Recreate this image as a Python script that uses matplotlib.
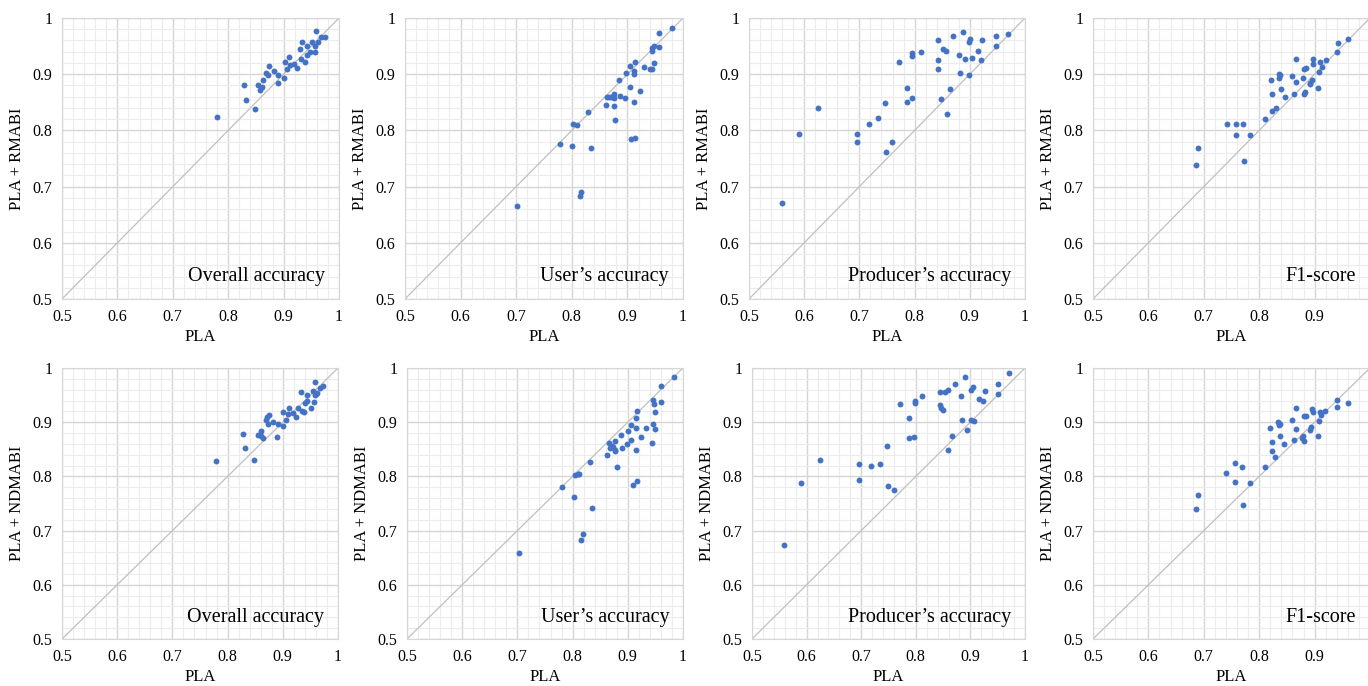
import numpy as np
import matplotlib.pyplot as plt
from matplotlib.ticker import MultipleLocator

plt.rcParams['font.family'] = ['Liberation Serif', 'DejaVu Serif']

# ---- data ----
# overall accuracy
oa_pla_1 = [0.779, 0.828, 0.833, 0.848, 0.854, 0.857, 0.861, 0.862, 0.869, 0.872, 0.874, 0.882,
            0.889, 0.890, 0.900, 0.902, 0.906, 0.910, 0.911, 0.918, 0.924, 0.929, 0.932, 0.933,
            0.938, 0.942, 0.943, 0.947, 0.952, 0.956, 0.957, 0.959, 0.962, 0.967, 0.974]
oa_rmabi = [0.823, 0.881, 0.854, 0.838, 0.881, 0.871, 0.877, 0.889, 0.902, 0.898, 0.914, 0.906,
            0.884, 0.898, 0.894, 0.922, 0.909, 0.930, 0.917, 0.919, 0.911, 0.944, 0.927, 0.957,
            0.921, 0.935, 0.951, 0.940, 0.958, 0.940, 0.951, 0.976, 0.958, 0.966, 0.967]
oa_pla_2 = [0.779, 0.828, 0.832, 0.847, 0.855, 0.861, 0.860, 0.864, 0.869, 0.872, 0.875, 0.873,
            0.882, 0.889, 0.891, 0.901, 0.901, 0.905, 0.910, 0.912, 0.919, 0.924, 0.927, 0.933,
            0.934, 0.938, 0.941, 0.944, 0.943, 0.951, 0.954, 0.956, 0.959, 0.959, 0.962, 0.960,
            0.967, 0.973]
oa_ndmabi = [0.828, 0.879, 0.853, 0.831, 0.877, 0.884, 0.874, 0.870, 0.904, 0.909, 0.913, 0.897,
             0.901, 0.873, 0.897, 0.893, 0.918, 0.904, 0.915, 0.927, 0.917, 0.909, 0.927, 0.955,
             0.921, 0.919, 0.935, 0.940, 0.950, 0.927, 0.957, 0.938, 0.975, 0.950, 0.954, 0.952,
             0.964, 0.966]

# user's accuracy
ua_pla_1 = [0.702, 0.778, 0.800, 0.803, 0.810, 0.814, 0.817, 0.834, 0.830, 0.861, 0.863, 0.867,
            0.870, 0.875, 0.875, 0.875, 0.878, 0.884, 0.887, 0.896, 0.898, 0.904, 0.904, 0.907,
            0.912, 0.912, 0.911, 0.914, 0.914, 0.922, 0.930, 0.941, 0.944, 0.944, 0.944, 0.948,
            0.948, 0.956, 0.957, 0.981]
ua_rmabi = [0.665, 0.776, 0.772, 0.811, 0.809, 0.683, 0.690, 0.769, 0.832, 0.845, 0.859, 0.860,
            0.859, 0.857, 0.864, 0.843, 0.818, 0.889, 0.861, 0.857, 0.902, 0.878, 0.914, 0.785,
            0.901, 0.905, 0.851, 0.787, 0.922, 0.870, 0.912, 0.910, 0.909, 0.941, 0.946, 0.920,
            0.951, 0.948, 0.973, 0.982]
ua_pla_2 = [0.703, 0.780, 0.802, 0.804, 0.810, 0.812, 0.815, 0.819, 0.835, 0.832, 0.863, 0.866,
            0.867, 0.871, 0.873, 0.877, 0.877, 0.877, 0.880, 0.887, 0.890, 0.898, 0.901, 0.905,
            0.905, 0.910, 0.914, 0.914, 0.915, 0.916, 0.917, 0.924, 0.933, 0.943, 0.946, 0.946,
            0.948, 0.950, 0.950, 0.960, 0.960, 0.984]
ua_ndmabi = [0.658, 0.780, 0.762, 0.802, 0.804, 0.804, 0.683, 0.694, 0.742, 0.826, 0.840, 0.862,
             0.852, 0.857, 0.854, 0.865, 0.846, 0.849, 0.818, 0.877, 0.852, 0.860, 0.883, 0.895,
             0.868, 0.784, 0.848, 0.889, 0.907, 0.920, 0.792, 0.872, 0.889, 0.862, 0.897, 0.941,
             0.934, 0.918, 0.887, 0.937, 0.967, 0.984]

# producer's accuracy
pa_pla_1 = [0.560, 0.591, 0.625, 0.696, 0.696, 0.718, 0.733, 0.747, 0.748, 0.759, 0.771, 0.787,
            0.787, 0.795, 0.796, 0.796, 0.811, 0.843, 0.843, 0.843, 0.847, 0.851, 0.857, 0.858,
            0.864, 0.869, 0.881, 0.882, 0.888, 0.892, 0.899, 0.899, 0.901, 0.904, 0.914, 0.921,
            0.923, 0.947, 0.947, 0.969]
pa_rmabi = [0.670, 0.793, 0.840, 0.793, 0.780, 0.811, 0.822, 0.849, 0.762, 0.780, 0.922, 0.876,
            0.850, 0.858, 0.938, 0.933, 0.940, 0.961, 0.926, 0.909, 0.855, 0.944, 0.941, 0.830,
            0.873, 0.968, 0.935, 0.903, 0.975, 0.927, 0.898, 0.957, 0.963, 0.929, 0.941, 0.925,
            0.960, 0.968, 0.950, 0.971]
pa_pla_2 = [0.559, 0.590, 0.624, 0.696, 0.696, 0.718, 0.734, 0.747, 0.749, 0.760, 0.771, 0.787,
            0.788, 0.796, 0.798, 0.799, 0.812, 0.845, 0.845, 0.847, 0.849, 0.853, 0.859, 0.859,
            0.866, 0.872, 0.883, 0.884, 0.890, 0.894, 0.901, 0.906, 0.902, 0.904, 0.916, 0.923,
            0.926, 0.951, 0.951, 0.971]
pa_ndmabi = [0.674, 0.788, 0.830, 0.822, 0.794, 0.820, 0.822, 0.857, 0.783, 0.775, 0.933, 0.907,
             0.871, 0.873, 0.935, 0.939, 0.948, 0.956, 0.931, 0.927, 0.923, 0.955, 0.959, 0.849,
             0.875, 0.970, 0.948, 0.904, 0.984, 0.886, 0.904, 0.902, 0.959, 0.965, 0.943, 0.939,
             0.957, 0.971, 0.952, 0.991]

# F1-score
f1_pla_1 = [0.686, 0.690, 0.741, 0.758, 0.771, 0.758, 0.784, 0.772, 0.811, 0.824, 0.830, 0.821,
            0.824, 0.835, 0.835, 0.838, 0.839, 0.846, 0.860, 0.867, 0.866, 0.863, 0.879, 0.880,
            0.883, 0.881, 0.884, 0.891, 0.892, 0.896, 0.897, 0.898, 0.907, 0.908, 0.910, 0.913,
            0.920, 0.941, 0.943, 0.960]
f1_rmabi = [0.739, 0.769, 0.812, 0.812, 0.812, 0.792, 0.792, 0.746, 0.820, 0.835, 0.839, 0.889,
            0.865, 0.901, 0.894, 0.898, 0.874, 0.860, 0.897, 0.927, 0.886, 0.864, 0.893, 0.865,
            0.869, 0.910, 0.911, 0.885, 0.882, 0.889, 0.927, 0.918, 0.876, 0.904, 0.921, 0.913,
            0.926, 0.940, 0.956, 0.962]
f1_pla_2 = [0.686, 0.690, 0.740, 0.757, 0.769, 0.757, 0.783, 0.771, 0.810, 0.829, 0.823, 0.823,
            0.820, 0.834, 0.835, 0.838, 0.838, 0.845, 0.860, 0.866, 0.866, 0.862, 0.879, 0.880,
            0.878, 0.881, 0.884, 0.891, 0.893, 0.896, 0.897, 0.907, 0.908, 0.910, 0.911, 0.918,
            0.940, 0.941, 0.960]
f1_ndmabi = [0.739, 0.765, 0.807, 0.824, 0.817, 0.790, 0.788, 0.747, 0.817, 0.836, 0.847, 0.863,
             0.890, 0.900, 0.894, 0.897, 0.875, 0.860, 0.904, 0.927, 0.888, 0.867, 0.874, 0.866,
             0.870, 0.911, 0.911, 0.885, 0.892, 0.925, 0.918, 0.875, 0.902, 0.919, 0.914, 0.920,
             0.928, 0.941, 0.936]

titles = ["Overall accuracy", "User\u2019s accuracy", "Producer\u2019s accuracy", "F1-score"]
row_labels = ["PLA + RMABI", "PLA + NDMABI"]
x_label = "PLA"
tick_vals = [0.5, 0.6, 0.7, 0.8, 0.9, 1.0]
tick_text = ["0.5", "0.6", "0.7", "0.8", "0.9", "1"]

panels = [
    [(oa_pla_1, oa_rmabi), (ua_pla_1, ua_rmabi), (pa_pla_1, pa_rmabi), (f1_pla_1, f1_rmabi)],
    [(oa_pla_2, oa_ndmabi), (ua_pla_2, ua_ndmabi), (pa_pla_2, pa_ndmabi), (f1_pla_2, f1_ndmabi)],
]

# layout in pixels (last column runs off the right edge, as in the original)
W, H = 1368, 686
lefts = [[62, 405, 749, 1093], [62, 407, 752, 1093]]
tops = [18, 368]
widths = [[277, 278, 276, 277], [276, 276, 273, 277]]
heights = [281, 271]

fig = plt.figure(figsize=(W / 100, H / 100), dpi=100)

for r in range(2):
    for c in range(4):
        l, t, w, h = lefts[r][c], tops[r], widths[r][c], heights[r]
        ax = fig.add_axes([l / W, 1 - (t + h) / H, w / W, h / H])
        x, y = panels[r][c]
        ax.set_xlim(0.5, 1)
        ax.set_ylim(0.5, 1)
        ax.xaxis.set_minor_locator(MultipleLocator(0.02))
        ax.yaxis.set_minor_locator(MultipleLocator(0.02))
        if c == 3:
            # the "1" label falls outside the picture here
            ax.set_xticks(tick_vals[:-1], tick_text[:-1])
        else:
            ax.set_xticks(tick_vals, tick_text)
        ax.set_yticks(tick_vals, tick_text)
        ax.grid(which='minor', color='#ECECEC', lw=0.8, zorder=0)
        ax.grid(which='major', color='#D6D6D6', lw=1.0, zorder=0)
        ax.set_axisbelow(True)
        ax.tick_params(which='both', length=0, labelsize=11.5, pad=7)
        for s in ax.spines.values():
            s.set_color('#D6D6D6')
        ax.plot([0.5, 1], [0.5, 1], color='#BFBFBF', lw=0.9, zorder=1)
        ax.scatter(x, y, s=18, color='#4472C4', zorder=3, linewidths=0)
        ax.text(0.975, 0.54, titles[c], ha='right', va='center', fontsize=14.5)
        ax.set_xlabel(x_label, fontsize=12, labelpad=3)
        ax.set_ylabel(row_labels[r], fontsize=12, labelpad=5)

fig.savefig("out.png", dpi=100)
